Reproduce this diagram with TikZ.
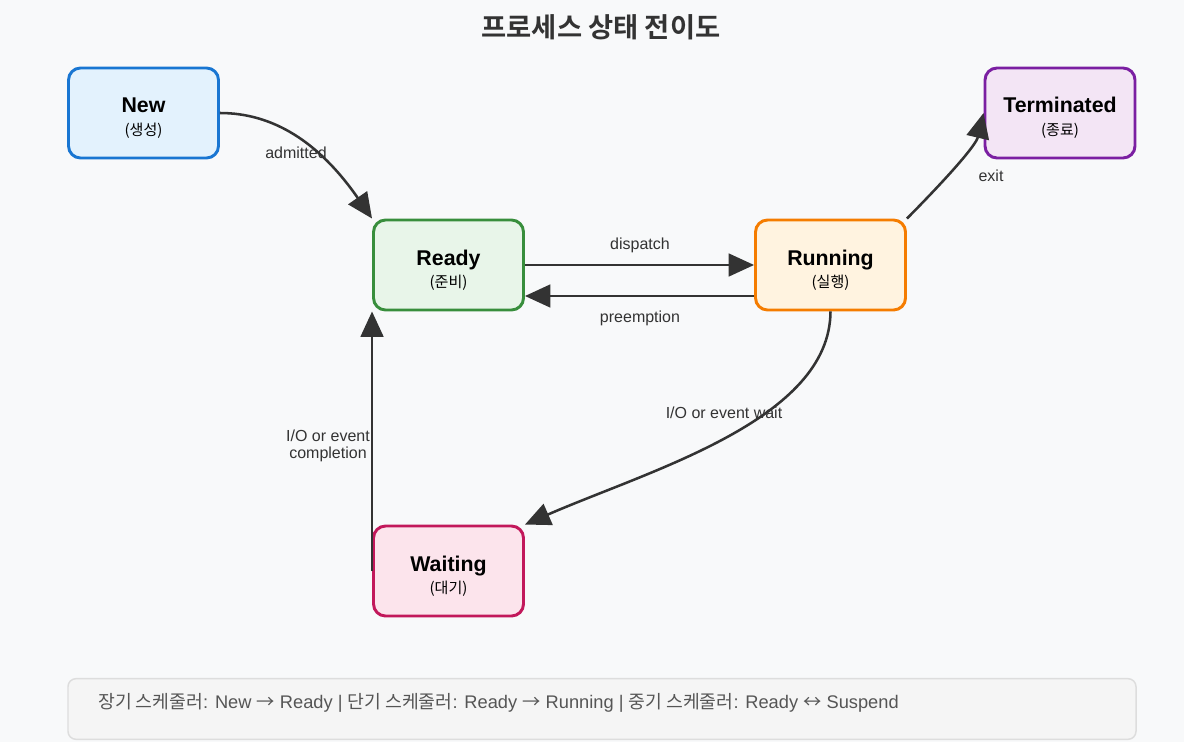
\documentclass[tikz,border=0pt]{standalone}
\usepackage{fontspec}
\setmainfont{Liberation Sans}
\newfontfamily\kr{Noto Sans CJK KR}[BoldFont={Noto Sans CJK KR Bold}]
\usetikzlibrary{arrows.meta}
\definecolor{bg}{HTML}{F8F9FA}
\definecolor{ink}{HTML}{333333}
\definecolor{newfill}{HTML}{E3F2FD}\definecolor{newdraw}{HTML}{1976D2}
\definecolor{readyfill}{HTML}{E8F5E9}\definecolor{readydraw}{HTML}{388E3C}
\definecolor{runfill}{HTML}{FFF3E0}\definecolor{rundraw}{HTML}{F57C00}
\definecolor{termfill}{HTML}{F3E5F5}\definecolor{termdraw}{HTML}{7B1FA2}
\definecolor{waitfill}{HTML}{FCE4EC}\definecolor{waitdraw}{HTML}{C2185B}
\definecolor{footfill}{HTML}{F5F5F5}\definecolor{footdraw}{HTML}{DDDDDD}
\definecolor{foottext}{HTML}{555555}
\begin{document}
\begin{tikzpicture}[x=0.75pt,y=-0.75pt,
  stbox/.style={draw, rounded corners=9pt, line width=2.2pt, minimum width=112.5pt, minimum height=67.5pt, inner sep=0pt},
  mainlbl/.style={anchor=base, font=\fontsize{16}{19}\selectfont\bfseries, text=black},
  sublbl/.style={anchor=base, font=\kr\fontsize{11.3}{13}\selectfont, text=black},
  edgelbl/.style={font=\fontsize{12}{14}\selectfont, text=ink, inner sep=0pt},
  conn/.style={draw=ink, line width=1.9pt, -{Triangle[length=19pt,width=17pt]}}
]
\useasboundingbox (0,0) rectangle (1184,742);
\fill[bg] (0,0) rectangle (1184,742);

\node[font=\kr\fontsize{20.5}{24}\selectfont\bfseries, text=ink] (title) at (601,27) {프로세스 상태 전이도};

\node[stbox, fill=newfill, draw=newdraw] (new) at (143.5,113) {};
\node[mainlbl] (newT) at (new.center) {New};
\node[sublbl] (newS) at ([yshift=-16.5pt]new.center) {(생성)};

\node[stbox, fill=readyfill, draw=readydraw] (ready) at (448.5,265) {};
\node[mainlbl] (readyT) at (ready.center) {Ready};
\node[sublbl] (readyS) at ([yshift=-16.5pt]ready.center) {(준비)};

\node[stbox, fill=runfill, draw=rundraw] (run) at (830.5,265) {};
\node[mainlbl] (runT) at (run.center) {Running};
\node[sublbl] (runS) at ([yshift=-16.5pt]run.center) {(실행)};

\node[stbox, fill=termfill, draw=termdraw] (term) at (1060,113) {};
\node[mainlbl] (termT) at (term.center) {Terminated};
\node[sublbl] (termS) at ([yshift=-16.5pt]term.center) {(종료)};

\node[stbox, fill=waitfill, draw=waitdraw] (wait) at (448.5,571) {};
\node[mainlbl] (waitT) at (wait.center) {Waiting};
\node[sublbl] (waitS) at ([yshift=-16.5pt]wait.center) {(대기)};

% connectors
\draw[conn] (new.east) .. controls (273,113) and (319,142) .. (ready.north west);
\draw[conn] (ready.east) -- (run.west);
\draw[conn] ([yshift=-23.25pt]run.west) -- ([yshift=-23.25pt]ready.east);
\draw[conn] (run.north east) .. controls (950,175) and (976,145) .. (term.west);
\draw[conn] (run.south) .. controls (830,420) and (650,470) .. (wait.north east);
\draw[conn] (wait.west) -- (ready.south west);

% labels
\node[edgelbl] (lAdm) at (296,153) {admitted};
\node[edgelbl] (lDis) at (640,245) {dispatch};
\node[edgelbl] (lPre) at (640,318) {preemption};
\node[edgelbl] (lExit) at (991,176) {exit};
\node[edgelbl] (lWait) at (724,413) {I/O or event wait};
\node[edgelbl, align=center] (lComp) at (328,446) {I/O or event\\[-1pt]completion};

% footer
\node[draw=footdraw, fill=footfill, line width=1.1pt, rounded corners=6pt, minimum width=801pt, minimum height=45.5pt, inner sep=0pt] (foot) at (602,709) {};
\node[anchor=west, text=foottext, font=\fontsize{13.7}{16}\selectfont, inner sep=0pt] (footT) at (98,703)
 {{\kr 장기 스케줄러}: New {\kr →} Ready | {\kr 단기 스케줄러}: Ready {\kr →} Running | {\kr 중기 스케줄러}: Ready {\kr ↔} Suspend};
\end{tikzpicture}
\end{document}
